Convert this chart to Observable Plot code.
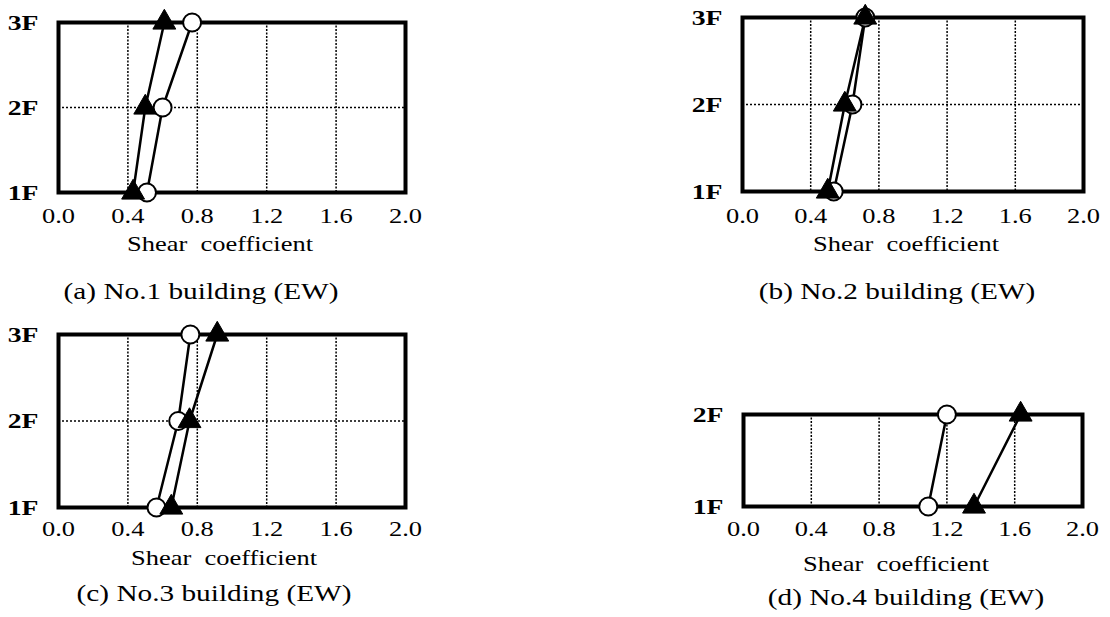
<!DOCTYPE html>
<html><head><meta charset="utf-8">
<script src="https://cdn.jsdelivr.net/npm/d3@7"></script>
<script src="https://cdn.jsdelivr.net/npm/@observablehq/plot@0.6"></script>
<style>
body{margin:0;background:#fff;}
#root{position:relative;width:1110px;height:617px;overflow:hidden;font-family:"Liberation Serif","Times New Roman",serif;color:#000;}
.panel{position:absolute;}
.cap{position:absolute;font-size:24px;line-height:1;white-space:nowrap;transform:translate(-50%,-50%) scaleX(1.22);}
</style></head><body><div id="root"></div>
<script>
// ---- data ----
const xTicks = [0.0, 0.4, 0.8, 1.2, 1.6, 2.0];
const floors3 = [1, 2, 3];
const floors2 = [1, 2];
const xLabel = "Shear\u00a0\u00a0coefficient";
const captions = ["(a) No.1 building (EW)", "(b) No.2 building (EW)", "(c) No.3 building (EW)", "(d) No.4 building (EW)"];
// open-circle and filled-triangle series, per floor 1F..nF
const aCircle = [0.51, 0.60, 0.77];
const aTriangle = [0.43, 0.50, 0.61];
const bCircle = [0.535, 0.645, 0.72];
const bTriangle = [0.50, 0.60, 0.72];
const cCircle = [0.565, 0.69, 0.76];
const cTriangle = [0.65, 0.755, 0.915];
const dCircle = [1.09, 1.20];
const dTriangle = [1.36, 1.635];

const rows = (floors, vals) => floors.map((f, i) => ({floor: f, v: vals[i]}));

// ---- layout ----
const panels = [
  {floors: floors3, circ: aCircle, tri: aTriangle, cap: captions[0], left: 0, top: 0, width: 420, height: 266,
   mL: 58, mR: 15, mT: 22, mB: 74, tickPad: 16, labDy: 58, labDx: -12, capX: 201, capY: 291},
  {floors: floors3, circ: bCircle, tri: bTriangle, cap: captions[1], left: 680, top: 0, width: 420, height: 266,
   mL: 62, mR: 17, mT: 17, mB: 75, tickPad: 17, labDy: 59, labDx: -7, capX: 897, capY: 291},
  {floors: floors3, circ: cCircle, tri: cTriangle, cap: captions[2], left: 0, top: 300, width: 420, height: 279,
   mL: 58, mR: 15, mT: 34, mB: 72, tickPad: 14, labDy: 57, labDx: -8, capX: 214, capY: 593},
  {floors: floors2, circ: dCircle, tri: dTriangle, cap: captions[3], left: 680, top: 380, width: 420, height: 237,
   mL: 63, mR: 18, mT: 34, mB: 111, tickPad: 15, labDy: 64, labDx: -17, capX: 906, capY: 597}
];

const root = document.getElementById("root");
const S = 1.26;

for (const p of panels) {
  const circ = rows(p.floors, p.circ);
  const tri = rows(p.floors, p.tri);
  const inner = p.floors.slice(1, -1);
  const chart = Plot.plot({
    width: p.width, height: p.height,
    marginLeft: p.mL, marginRight: p.mR, marginTop: p.mT, marginBottom: p.mB,
    x: {domain: [0, 2]},
    y: {domain: [p.floors[0], p.floors[p.floors.length - 1]]},
    style: {fontFamily: "'Liberation Serif', 'Times New Roman', serif", fontSize: "21px", color: "#000", background: "transparent", overflow: "visible"},
    marks: [
      Plot.gridX(xTicks.slice(1, -1), {stroke: "#000", strokeOpacity: 1, strokeWidth: 1.5, strokeDasharray: "2,1.5"}),
      Plot.gridY(inner, {stroke: "#000", strokeOpacity: 1, strokeWidth: 1.5, strokeDasharray: "2,2"}),
      Plot.frame({stroke: "#000", strokeWidth: 4}),
      Plot.axisX(xTicks, {tickSize: 0, tickPadding: p.tickPad, tickFormat: d3.format(".1f"), fontSize: 21, label: null}),
      Plot.axisY(p.floors, {tickSize: 0, tickPadding: 20, tickFormat: d => d + "F", fontSize: 22, fontWeight: "bold", label: null}),
      Plot.text([xLabel], {frameAnchor: "bottom", dy: p.labDy, dx: p.labDx, fontSize: 21, fill: "#000"}),
      Plot.line(circ, {x: "v", y: "floor", stroke: "#000", strokeWidth: 2.5}),
      Plot.line(tri, {x: "v", y: "floor", stroke: "#000", strokeWidth: 2.5}),
      Plot.dot(circ, {x: "v", y: "floor", r: 9, symbol: "circle", fill: "#fff", stroke: "#000", strokeWidth: 2}),
      Plot.dot(tri, {x: "v", y: "floor", r: 8.5, symbol: "triangle", fill: "#000", stroke: "#000", strokeWidth: 1})
    ]
  });
  // widen glyphs horizontally to match the scanned typeface proportions
  d3.select(chart).selectAll("text").each(function () {
    const t = this;
    const x = +t.getAttribute("x") || 0, y = +t.getAttribute("y") || 0;
    const tr = t.getAttribute("transform") || "";
    t.setAttribute("transform", `${tr} translate(${x},${y}) scale(${S},1) translate(${-x},${-y})`);
  });
  const div = document.createElement("div");
  div.className = "panel";
  div.style.left = p.left + "px";
  div.style.top = p.top + "px";
  div.appendChild(chart);
  root.appendChild(div);
  const cap = document.createElement("div");
  cap.className = "cap";
  cap.style.left = p.capX + "px";
  cap.style.top = p.capY + "px";
  cap.textContent = p.cap;
  root.appendChild(cap);
}
</script></body></html>
